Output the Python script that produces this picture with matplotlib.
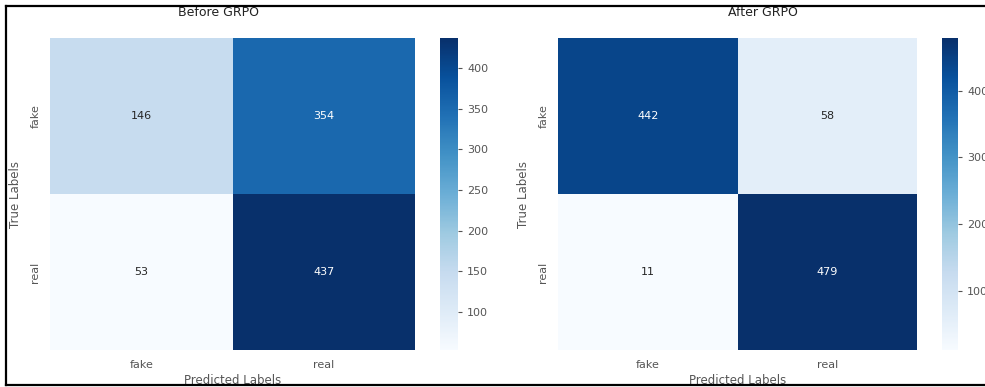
import numpy as np
import matplotlib
matplotlib.use("Agg")
import matplotlib.pyplot as plt
from matplotlib.lines import Line2D
import seaborn as sns

LABELS = ["fake", "real"]
BEFORE = [[146, 354],
          [53, 437]]
AFTER = [[442, 58],
         [11, 479]]
TITLES = ["Before GRPO", "After GRPO"]

W, H = 985, 387
fig = plt.figure(figsize=(W / 100, H / 100), dpi=100)


def px(x0, y0, x1, y1):
    # pixel box (top-left origin) -> figure fraction rect
    return [x0 / W, 1 - y1 / H, (x1 - x0) / W, (y1 - y0) / H]


panels = [
    (BEFORE, px(50, 38, 415, 350), px(440, 38, 458, 350), 218),
    (AFTER, px(558, 38, 917, 350), px(942, 38, 958, 350), 763),
]

for (cm, rect, crect, tx), title in zip(panels, TITLES):
    ax = fig.add_axes(rect)
    cax = fig.add_axes(crect)
    sns.heatmap(np.array(cm), annot=True, fmt="d", cmap="Blues",
                xticklabels=LABELS, yticklabels=LABELS,
                ax=ax, cbar_ax=cax, annot_kws={"fontsize": 8})
    ax.tick_params(length=0, labelsize=8, pad=7, colors="#555555")
    ax.set_yticklabels(LABELS, rotation=90, va="center")
    ax.set_xticklabels(LABELS, rotation=0)
    ax.set_xlabel("Predicted Labels", fontsize=8.5, labelpad=3, color="#555555")
    ax.set_ylabel("True Labels", fontsize=8.5, labelpad=6, color="#555555")
    cax.tick_params(labelsize=8, colors="#555555", length=3)
    fig.text(tx / W, 1 - 13 / H, title, ha="center", va="center",
             fontsize=9, color="#222222")

# screenshot frame (the right side runs off the image)
for xs, ys in [((5.5 / W, 1.02), (1 - 6 / H, 1 - 6 / H)),
               ((5.5 / W, 1.02), (1 - 385 / H, 1 - 385 / H)),
               ((5.5 / W, 5.5 / W), (1 - 6 / H, 1 - 385 / H))]:
    fig.lines.append(Line2D(xs, ys, transform=fig.transFigure,
                            color="black", linewidth=1.6, zorder=10))

plt.savefig("out.png", dpi=100)
plt.close()
